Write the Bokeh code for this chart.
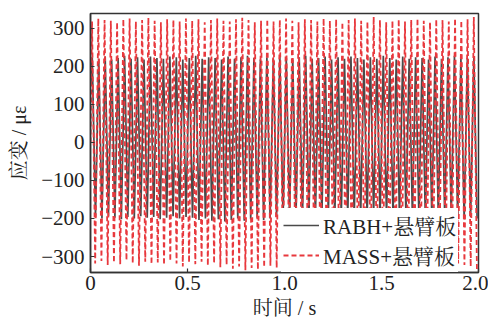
import numpy as np
from bokeh.plotting import figure
from bokeh.models import FixedTicker
from bokeh.embed import file_html
from bokeh.resources import INLINE

# ---- data ----
series_names = ["RABH+悬臂板", "MASS+悬臂板"]

# RABH + cantilever: alternating peak / trough values, ~30 Hz
gray_start = 150
gray_half_period = 0.01667
gray_first_peak_t = 0.009
gray_peaks = [224, 220, 226, 218, 222, 228, 220, 224, 218, 226,
              222, 220, 226, 224, 218, 222, 228, 220, 224, 222,
              218, 226, 220, 224, 228, 222, 218, 224, 220, 226,
              222, 218, 224, 228, 220, 222, 226, 218, 224, 220,
              226, 222, 218, 224, 220, 228, 222, 218, 226, 220,
              224, 222, 218, 226, 220, 224, 228, 220, 222, 226]
gray_troughs = [-196, -200, -194, -198, -202, -196, -200, -194, -198, -196,
                -202, -198, -194, -200, -196, -198, -204, -200, -206, -202,
                -208, -204, -200, -206, -202, -198, -204, -200, -196, -202,
                -198, -194, -200, -196, -202, -198, -194, -200, -196, -198,
                -202, -196, -200, -194, -198, -202, -196, -200, -194, -198,
                -196, -202, -198, -194, -200, -196, -198, -202, -196, -200]

# MASS + cantilever: alternating peak / trough values, ~31 Hz
red_start = 0
red_half_period = 0.01613
red_first_peak_t = 0.008
red_peaks = [318, 326, 322, 320, 316, 324, 326, 318, 322, 328, 320, 316, 324, 322, 318, 326, 320, 324, 316, 322,
             326, 320, 318, 324, 328, 322, 316, 320, 324, 318, 322, 326, 320, 316, 324, 322, 318, 326, 320, 324,
             316, 322, 326, 320, 318, 330, 322, 316, 320, 324, 318, 322, 326, 320, 316, 324, 322, 318, 326, 320, 324, 330]
red_troughs = [-318, -312, -322, -316, -320, -310, -318, -324, -314, -320, -316, -322, -312, -318, -326, -316, -320, -314, -324, -318,
               -328, -322, -332, -326, -336, -330, -334, -328, -324, -330, -322, -318, -326, -316, -320, -314, -322, -318, -312, -320,
               -316, -322, -314, -318, -320, -312, -316, -322, -318, -314, -320, -316, -312, -318, -322, -316, -320, -314, -318, -322, -326, -338]

x_ticks = [0, 0.5, 1.0, 1.5, 2.0]
x_tick_labels = ["0", "0.5", "1.0", "1.5", "2.0"]
y_ticks = [-300, -200, -100, 0, 100, 200, 300]
y_tick_labels = ["\u2212300", "\u2212200", "\u2212100", "0", "100", "200", "300"]


def build(start, first_t, half, peaks, troughs):
    vals = [start]
    for pk, tr in zip(peaks, troughs):
        vals += [pk, tr]
    ts = [0.0] + [first_t + k * half for k in range(len(vals) - 1)]
    return ts, vals


gt, gv = build(gray_start, gray_first_peak_t, gray_half_period, gray_peaks, gray_troughs)
rt, rv = build(red_start, red_first_peak_t, red_half_period, red_peaks, red_troughs)

SERIF = "Liberation Serif, Noto Serif CJK SC, Noto Sans CJK SC"
FS = "21px"

p = figure(width=488, height=322, output_backend="svg", toolbar_location=None,
           x_range=(0, 2.0), y_range=(-342, 339),
           min_border_left=90, min_border_right=10, min_border_top=13, min_border_bottom=50)

p.line(gt, gv, line_color="#4a4a4a", line_width=1.7, legend_label=series_names[0])
p.line(rt, rv, line_color="#e8383d", line_width=1.8, line_dash="5 3", legend_label=series_names[1])

p.grid.visible = False
p.outline_line_color = "#333333"
p.outline_line_width = 1.5
p.background_fill_color = "white"

for ax in (p.xaxis[0], p.yaxis[0]):
    ax.major_tick_in = 4
    ax.major_tick_out = 0
    ax.minor_tick_in = 0
    ax.minor_tick_out = 0
    ax.axis_line_color = "#333333"
    ax.axis_line_width = 1.5
    ax.major_tick_line_color = "#333333"
    ax.major_tick_line_width = 1.2
    ax.major_label_text_font = SERIF
    ax.major_label_text_font_size = FS
    ax.major_label_text_color = "#222222"
    ax.axis_label_text_font = SERIF
    ax.axis_label_text_font_size = "20px"
    ax.axis_label_text_font_style = "normal"
    ax.axis_label_text_color = "#222222"

p.xaxis.ticker = FixedTicker(ticks=x_ticks)
p.xaxis.major_label_overrides = {t: s for t, s in zip(x_ticks, x_tick_labels)}
p.yaxis.ticker = FixedTicker(ticks=y_ticks)
p.yaxis.major_label_overrides = {t: s for t, s in zip(y_ticks, y_tick_labels)}
p.xaxis.axis_label = "时间 / s"
p.yaxis.axis_label = "应变 / με"
p.xaxis.major_label_standoff = 3
p.yaxis.major_label_standoff = 6
p.xaxis.axis_label_standoff = 4
p.yaxis.axis_label_standoff = 8

lg = p.legend[0]
lg.location = (191, 0)
lg.background_fill_color = "white"
lg.background_fill_alpha = 1.0
lg.border_line_alpha = 0
lg.margin = 0
lg.padding = 2
lg.spacing = 0
lg.label_text_font = SERIF
lg.label_text_font_size = FS
lg.label_text_color = "#222222"
lg.glyph_width = 36
lg.glyph_height = 24
lg.label_height = 24
lg.label_standoff = 4

open("out.html", "w").write(file_html(p, INLINE))
